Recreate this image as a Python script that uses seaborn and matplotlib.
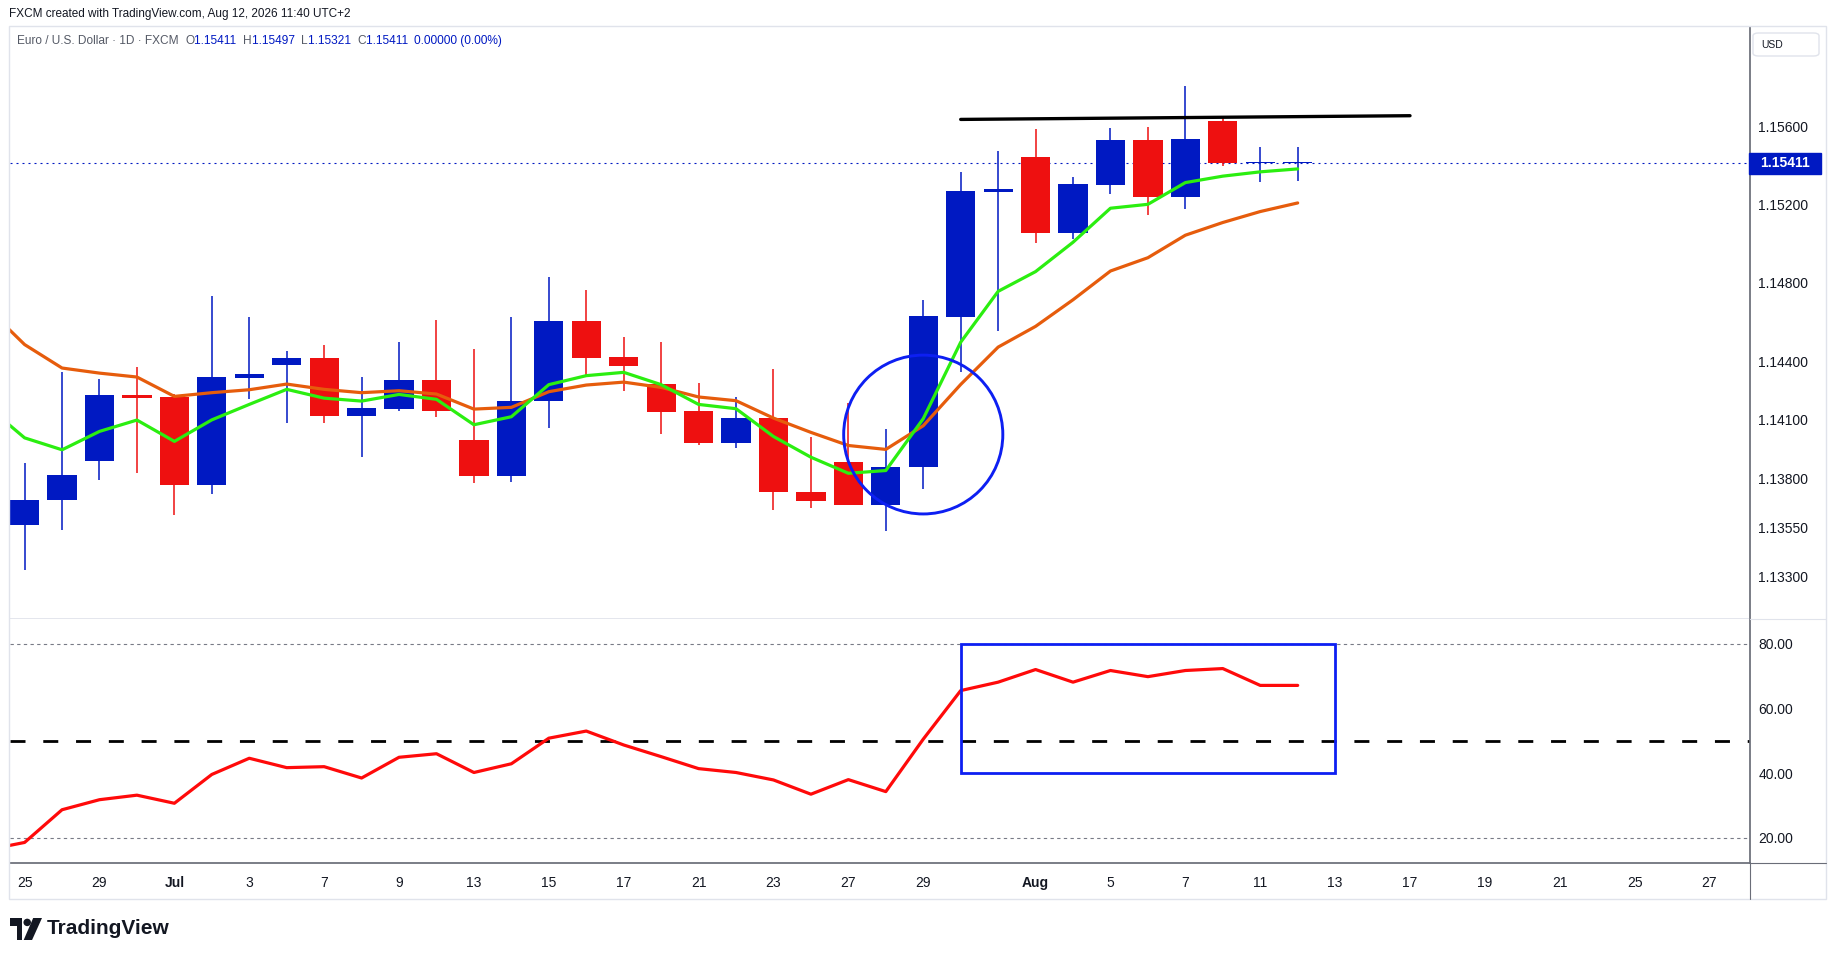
import numpy as np
import pandas as pd
import matplotlib
matplotlib.use("Agg")
import matplotlib.pyplot as plt
import matplotlib.transforms as mtransforms
from matplotlib.patches import Rectangle, Ellipse, FancyBboxPatch, Polygon, Circle
from matplotlib.lines import Line2D
import seaborn as sns

# daily EUR/USD candles (FXCM)
dates = [
    "2026-06-25", "2026-06-26", "2026-06-29", "2026-06-30", "2026-07-01",
    "2026-07-02", "2026-07-03", "2026-07-06", "2026-07-07", "2026-07-08",
    "2026-07-09", "2026-07-10", "2026-07-13", "2026-07-14", "2026-07-15",
    "2026-07-16", "2026-07-17", "2026-07-20", "2026-07-21", "2026-07-22",
    "2026-07-23", "2026-07-24", "2026-07-27", "2026-07-28", "2026-07-29",
    "2026-07-30", "2026-07-31", "2026-08-03", "2026-08-04", "2026-08-05",
    "2026-08-06", "2026-08-07", "2026-08-10", "2026-08-11", "2026-08-12",
]
opens = [
    1.13564, 1.13689, 1.13889, 1.14225, 1.14217, 1.13766, 1.14314, 1.14380,
    1.14415, 1.14119, 1.14155, 1.14302, 1.13995, 1.13812, 1.14196, 1.14604,
    1.14420, 1.14281, 1.14143, 1.13981, 1.14107, 1.13733, 1.13887, 1.13663,
    1.13858, 1.14626, 1.15266, 1.15443, 1.15056, 1.15300, 1.15530, 1.15240,
    1.15627, 1.15411, 1.15411,
]
highs = [
    1.13877, 1.14343, 1.14307, 1.14368, 1.14234, 1.14732, 1.14625, 1.14450,
    1.14481, 1.14317, 1.14496, 1.14609, 1.14461, 1.14625, 1.14829, 1.14763,
    1.14522, 1.14496, 1.14287, 1.14215, 1.14358, 1.14010, 1.14186, 1.14051,
    1.14712, 1.15366, 1.15474, 1.15586, 1.15341, 1.15592, 1.15597, 1.15807,
    1.15650, 1.15494, 1.15497,
]
lows = [
    1.13330, 1.13535, 1.13791, 1.13827, 1.13612, 1.13720, 1.14206, 1.14083,
    1.14083, 1.13909, 1.14145, 1.14114, 1.13776, 1.13781, 1.14058, 1.14319,
    1.14247, 1.14027, 1.13971, 1.13955, 1.13638, 1.13648, 1.13663, 1.13530,
    1.13745, 1.14345, 1.14554, 1.15004, 1.15023, 1.15255, 1.15148, 1.15179,
    1.15399, 1.15317, 1.15321,
]
closes = [
    1.13692, 1.13820, 1.14225, 1.14211, 1.13766, 1.14317, 1.14333, 1.14415,
    1.14119, 1.14159, 1.14302, 1.14145, 1.13812, 1.14199, 1.14604, 1.14416,
    1.14375, 1.14140, 1.13981, 1.14107, 1.13730, 1.13684, 1.13663, 1.13861,
    1.14630, 1.15269, 1.15279, 1.15056, 1.15305, 1.15530, 1.15240, 1.15535,
    1.15411, 1.15411, 1.15411,
]

# moving averages and RSI (one extra day on the left, just off the pane)
line_dates = ["2026-06-24"] + dates
ma_fast = [
    1.14170, 1.14008, 1.13947, 1.14041, 1.14099, 1.13990, 1.14100, 1.14179,
    1.14256, 1.14211, 1.14196, 1.14230, 1.14205, 1.14075, 1.14116, 1.14280,
    1.14326, 1.14343, 1.14280, 1.14179, 1.14157, 1.14015, 1.13909, 1.13827,
    1.13841, 1.14106, 1.14497, 1.14757, 1.14858, 1.15008, 1.15182, 1.15202,
    1.15313, 1.15346, 1.15368, 1.15383,
]
ma_slow = [
    1.14672, 1.14485, 1.14365, 1.14339, 1.14319, 1.14220, 1.14239, 1.14254,
    1.14283, 1.14256, 1.14239, 1.14249, 1.14232, 1.14155, 1.14164, 1.14244,
    1.14278, 1.14293, 1.14266, 1.14217, 1.14198, 1.14109, 1.14036, 1.13969,
    1.13949, 1.14070, 1.14281, 1.14472, 1.14578, 1.14714, 1.14861, 1.14929,
    1.15044, 1.15109, 1.15165, 1.15209,
]
rsi_vals = [
    16.3, 18.6, 28.7, 31.8, 33.2, 30.7, 39.6, 44.6, 41.7, 42.0, 38.5, 44.9,
    46.0, 40.2, 42.9, 50.8, 53.0, 48.7, 45.1, 41.4, 40.2, 37.9, 33.5, 38.0,
    34.3, 50.5, 65.5, 68.1, 72.0, 68.1, 71.7, 69.8, 71.7, 72.3, 67.1, 67.1,
]

tick_dates = [
    "2026-06-25", "2026-06-29", "2026-07-01", "2026-07-03", "2026-07-07",
    "2026-07-09", "2026-07-13", "2026-07-15", "2026-07-17", "2026-07-21",
    "2026-07-23", "2026-07-27", "2026-07-29", "2026-08-03", "2026-08-05",
    "2026-08-07", "2026-08-11", "2026-08-13", "2026-08-17", "2026-08-19",
    "2026-08-21", "2026-08-25", "2026-08-27",
]
tick_labels = ["25", "29", "Jul", "3", "7", "9", "13", "15", "17", "21", "23",
               "27", "29", "Aug", "5", "7", "11", "13", "17", "19", "21", "25", "27"]

price_ticks = [1.156, 1.152, 1.148, 1.144, 1.141, 1.138, 1.1355, 1.133]
rsi_ticks = [80, 60, 40, 20]
last_price = 1.15411

# drawings
trend_dates = ["2026-07-30", "2026-08-17"]
trend_prices = [1.15636, 1.15655]
circle_date = "2026-07-29"
circle_price = 1.14025
box_dates = ["2026-07-30", "2026-08-13"]
box_rsi = [40, 80]

BLUE = "#0019c2"
RED = "#ee1010"
GREEN = "#2bee10"
ORANGE = "#e65c0c"
PEN = "#0d1ff2"
TXT = "#131722"
GRID = "#e0e3eb"
AXC = "#6a6d78"

W, H = 1835, 959

# trading-day positions (weekends removed like TradingView)
cal = pd.bdate_range("2026-06-24", "2026-08-31")
def pos(d):
    return cal.get_loc(pd.Timestamp(d)) - 1

df = pd.DataFrame({"date": dates, "open": opens, "high": highs, "low": lows, "close": closes})
df["x"] = [pos(d) for d in df["date"]]
lines = pd.DataFrame({"date": line_dates, "fast": ma_fast, "slow": ma_slow, "rsi": rsi_vals})
lines["x"] = [pos(d) for d in lines["date"]]

sns.set_theme(style="white")
plt.rcParams["font.family"] = ["Liberation Sans", "DejaVu Sans"]

fig = plt.figure(figsize=(W / 100, H / 100), dpi=100)
fig.patch.set_facecolor("white")

def fx(x):
    return x / W

def fy(y):
    return 1 - y / H

ax = fig.add_axes([fx(10), fy(618.6), 1740 / W, (618.6 - 26.9) / H])
ax_rsi = fig.add_axes([fx(10), fy(863.3), 1740 / W, (863.3 - 618.6) / H], sharex=ax)

# candles
up = df["close"] >= df["open"]
cols = np.where(up, BLUE, RED)
body_low = np.minimum(df["open"], df["close"])
body_h = np.maximum((df["close"] - df["open"]).abs(), 0.00005)
ax.vlines(df["x"], df["low"], df["high"], colors=cols, lw=1.1, zorder=2)
ax.bar(df["x"], body_h, bottom=body_low, width=0.78, color=cols, linewidth=0, zorder=3)

# averages
sns.lineplot(data=lines, x="x", y="slow", color=ORANGE, lw=2.3, ax=ax,
             estimator=None, sort=False, zorder=4)
sns.lineplot(data=lines, x="x", y="fast", color=GREEN, lw=2.3, ax=ax,
             estimator=None, sort=False, zorder=5)

# last price dotted line
ax.axhline(last_price, color=BLUE, lw=0.8, ls=(0, (1.8, 3.6)), zorder=1)

# trend line + circle
ax.plot([pos(d) for d in trend_dates], trend_prices, color="black", lw=2.4,
        solid_capstyle="round", zorder=6)
ax.add_patch(Ellipse((pos(circle_date), circle_price), width=4.25, height=0.00812,
                     fill=False, ec=PEN, lw=2.1, zorder=6))

ax.set_xlim(-0.39, 46.08)
ax.set_ylim(1.13084, 1.16109)
ax.set_xlabel("")
ax.set_ylabel("")
ax.yaxis.tick_right()
ax.set_yticks(price_ticks)
ax.set_yticklabels([f"{p:.5f}" for p in price_ticks])
ax.tick_params(axis="y", length=0, pad=6, labelsize=10, labelcolor=TXT)
ax.tick_params(axis="x", length=0, labelbottom=False)
for s in ["left", "top"]:
    ax.spines[s].set_visible(False)
ax.spines["right"].set_color(AXC)
ax.spines["bottom"].set_color(GRID)
ax.grid(False)

# last price tag on the axis
blend = mtransforms.blended_transform_factory(fig.transFigure, ax.transData)
ax.add_patch(Rectangle((fx(1749), last_price - 0.000555), 72 / W, 0.00111,
                       transform=blend, fc=BLUE, ec=BLUE, clip_on=False, zorder=10))
ax.text(fx(1785), last_price, f"{last_price:.5f}", transform=blend, ha="center",
        va="center", color="white", fontsize=10, fontweight="bold", zorder=11)

# RSI pane
sns.lineplot(data=lines, x="x", y="rsi", color="#ff0a0a", lw=2.3, ax=ax_rsi,
             estimator=None, sort=False, zorder=4)
ax_rsi.axhline(80, color="#787b86", lw=0.8, ls=(0, (3, 3)))
ax_rsi.axhline(20, color="#787b86", lw=0.8, ls=(0, (3, 3)))
ax_rsi.axhline(50, color="black", lw=2.0, ls=(0, (5.4, 6.4)))
bx0, bx1 = pos(box_dates[0]), pos(box_dates[1])
ax_rsi.add_patch(Rectangle((bx0, box_rsi[0]), bx1 - bx0, box_rsi[1] - box_rsi[0],
                           fill=False, ec=PEN, lw=2.0, zorder=5))
ax_rsi.set_ylim(12.16, 87.73)
ax_rsi.set_xlabel("")
ax_rsi.set_ylabel("")
ax_rsi.yaxis.tick_right()
ax_rsi.set_yticks(rsi_ticks)
ax_rsi.set_yticklabels([f"{v:.2f}" for v in rsi_ticks])
ax_rsi.tick_params(axis="y", length=0, pad=6, labelsize=10, labelcolor=TXT)
ax_rsi.set_xticks([pos(d) for d in tick_dates])
ax_rsi.set_xticklabels(tick_labels)
ax_rsi.tick_params(axis="x", length=0, pad=9, labelsize=10, labelcolor=TXT)
for lab in ax_rsi.get_xticklabels():
    if lab.get_text() in ("Jul", "Aug"):
        lab.set_fontweight("bold")
for s in ["left", "top"]:
    ax_rsi.spines[s].set_visible(False)
ax_rsi.spines["right"].set_color(AXC)
ax_rsi.spines["bottom"].set_color(AXC)
ax_rsi.grid(False)
ax_rsi.set_xlim(-0.39, 46.08)

# outer frame and axis line extensions
fig.add_artist(Rectangle((fx(9.4), fy(898.8)), (1826 - 9.4) / W, (898.8 - 26) / H,
                         transform=fig.transFigure, fill=False, ec=GRID, lw=1))
fig.add_artist(Line2D([fx(1750), fx(1826)], [fy(863.3), fy(863.3)], color=AXC, lw=0.8))
fig.add_artist(Line2D([fx(1750), fx(1826)], [fy(618.6), fy(618.6)], color=GRID, lw=0.8))
fig.add_artist(Line2D([fx(1750), fx(1750)], [fy(863.3), fy(898.8)], color=AXC, lw=0.8))

# USD box
fig.add_artist(FancyBboxPatch((fx(1753), fy(56)), 66 / W, 23 / H,
                              boxstyle="round,pad=0,rounding_size=0.003",
                              transform=fig.transFigure, fc="white", ec=GRID, lw=1))
fig.text(fx(1761), fy(44.5), "USD", fontsize=7.5, color=TXT, va="center")

# header
fig.text(fx(9), fy(14), "FXCM created with TradingView.com, Aug 12, 2026 11:40 UTC+2",
         fontsize=8.5, color=TXT, va="center")

pieces = [
    ("Euro / U.S. Dollar \u00b7 1D \u00b7 FXCM  ", "#555a66"),
    ("O", "#555a66"), ("1.15411  ", BLUE),
    ("H", "#555a66"), ("1.15497  ", BLUE),
    ("L", "#555a66"), ("1.15321  ", BLUE),
    ("C", "#555a66"), ("1.15411  ", BLUE),
    ("0.00000 (0.00%)", BLUE),
]
t = fig.text(fx(17), fy(41), pieces[0][0], fontsize=8.6, color=pieces[0][1], va="center")
for s, c in pieces[1:]:
    t = ax.annotate(s, xy=(1, 0), xycoords=t, va="bottom", ha="left",
                    fontsize=8.6, color=c, annotation_clip=False)

# TradingView logo
lax = fig.add_axes([fx(10), fy(940), 32 / W, 22 / H])
lax.set_xlim(0, 1.45)
lax.set_ylim(0, 1)
lax.axis("off")
lax.add_patch(Polygon([(0, 1), (0.55, 1), (0.55, 0), (0.3, 0), (0.3, 0.62), (0, 0.62)],
                      closed=True, fc=TXT, ec="none"))
lax.add_patch(Circle((0.78, 0.8), 0.17, fc=TXT, ec="none"))
lax.add_patch(Polygon([(0.62, 0), (1.05, 1), (1.45, 1), (1.0, 0)], closed=True, fc=TXT, ec="none"))
fig.text(fx(47), fy(929), "TradingView", fontsize=15, fontweight="bold", color=TXT, va="center")

fig.savefig("out.png", dpi=100, facecolor="white")
